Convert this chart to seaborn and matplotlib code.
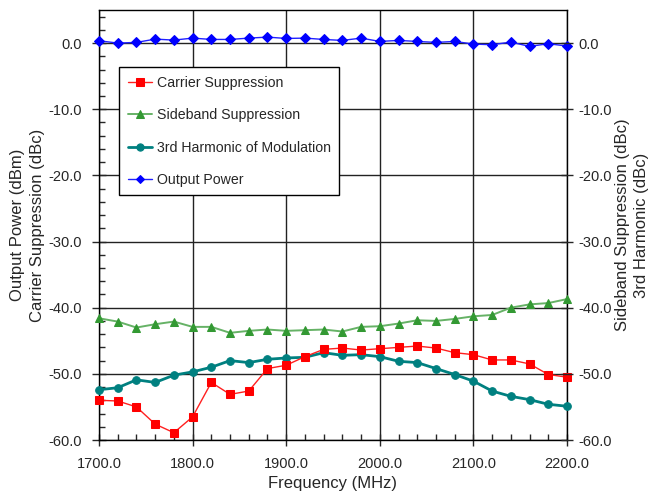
import matplotlib
matplotlib.use("Agg")
import matplotlib.pyplot as plt
import seaborn as sns
import pandas as pd
from matplotlib.ticker import MultipleLocator, FormatStrFormatter

# data (every 20 MHz)
freq = list(range(1700, 2201, 20))
carrier = [-54.0, -54.1, -55.0, -57.6, -58.9, -56.5, -51.3, -53.1, -52.6, -49.2, -48.7, -47.4, -46.3,
           -46.1, -46.4, -46.2, -46.0, -45.8, -46.1, -46.8, -47.1, -47.9, -47.9, -48.5, -50.1, -50.5]
sideband = [-41.6, -42.1, -43.0, -42.5, -42.1, -42.9, -42.9, -43.8, -43.5, -43.3, -43.5, -43.4, -43.3,
            -43.6, -42.9, -42.8, -42.4, -41.9, -42.0, -41.7, -41.3, -41.1, -40.0, -39.5, -39.3, -38.7]
harmonic = [-52.4, -52.1, -50.9, -51.3, -50.2, -49.7, -49.0, -48.0, -48.3, -47.8, -47.6, -47.5, -46.8,
            -47.2, -47.1, -47.4, -48.1, -48.3, -49.2, -50.1, -51.1, -52.6, -53.4, -53.9, -54.6, -54.9]
power = [0.35, 0.0, 0.1, 0.6, 0.45, 0.75, 0.55, 0.55, 0.75, 0.9, 0.7, 0.75, 0.55,
         0.4, 0.75, 0.25, 0.4, 0.25, 0.1, 0.25, -0.15, -0.25, 0.15, -0.5, -0.1, -0.45]

df = pd.DataFrame({"Frequency": freq, "Carrier": carrier, "Sideband": sideband,
                   "Harmonic": harmonic, "Power": power})

sns.set_style("white")
plt.rcParams["font.family"] = ["Liberation Sans", "DejaVu Sans"]

fig = plt.figure(figsize=(6.52, 4.97), dpi=100)
ax = fig.add_axes([99 / 652, 57 / 497, 468 / 652, 430 / 497])

# series (drawn back to front)
series = [
    ("Sideband", "Sideband Suppression", "#66b266", "#339933", "^", 1.4, 6.0),
    ("Harmonic", "3rd Harmonic of Modulation", "#008080", "#008080", "o", 2.0, 5.5),
    ("Carrier", "Carrier Suppression", "#ff2020", "#ff0000", "s", 1.0, 5.8),
    ("Power", "Output Power", "#2020ff", "#0000ff", "D", 1.0, 4.6),
]
for col, lab, lc, mc, mk, lw, ms in series:
    sns.lineplot(data=df, x="Frequency", y=col, ax=ax, color=lc, marker=mk, markersize=ms,
                 markerfacecolor=mc, markeredgecolor=mc, linewidth=lw, label=lab, clip_on=False,
                 zorder=3)

ax.set_xlim(1700, 2200)
ax.set_ylim(-60, 5)
ax.xaxis.set_major_locator(MultipleLocator(100))
ax.xaxis.set_minor_locator(MultipleLocator(20))
ax.yaxis.set_major_locator(MultipleLocator(10))
ax.yaxis.set_minor_locator(MultipleLocator(2))
ax.set_yticks(range(-60, 1, 10))
ax.xaxis.set_major_formatter(FormatStrFormatter("%.1f"))
ax.yaxis.set_major_formatter(FormatStrFormatter("%.1f"))
ax.grid(True, which="major", color="#222222", linewidth=1.0)
ax.set_axisbelow(True)

for s in ax.spines.values():
    s.set_color("black")
    s.set_linewidth(1.0)

ax.tick_params(axis="x", which="major", direction="inout", length=9, width=1, labelsize=10.5, pad=8,
               bottom=True)
ax.tick_params(axis="x", which="minor", direction="in", length=4, width=1, bottom=True)
ax.tick_params(axis="y", which="major", direction="inout", length=10, width=1, labelsize=10.5, pad=7,
               left=True)
ax.tick_params(axis="y", which="minor", direction="in", length=4, width=1, left=True)

ax.set_xlabel("Frequency (MHz)", fontsize=12, labelpad=3)
ax.set_ylabel("Output Power (dBm)\nCarrier Suppression (dBc)", fontsize=12, labelpad=3,
              linespacing=1.4)

ax2 = ax.twinx()
ax2.set_ylim(ax.get_ylim())
ax2.set_yticks(range(-60, 1, 10))
ax2.yaxis.set_major_formatter(FormatStrFormatter("%.1f"))
ax2.tick_params(axis="y", which="major", direction="inout", length=9, width=1, labelsize=10.5, pad=4,
                right=True)
ax2.set_ylabel("Sideband Suppression (dBc)\n3rd Harmonic (dBc)", fontsize=12, labelpad=2,
               linespacing=1.3)
ax2.grid(False)
for s in ax2.spines.values():
    s.set_visible(False)

handles, labels = ax.get_legend_handles_labels()
order = [labels.index(n) for n in ["Carrier Suppression", "Sideband Suppression",
                                   "3rd Harmonic of Modulation", "Output Power"]]
ax.legend([handles[i] for i in order], [labels[i] for i in order], loc="upper left",
          bbox_to_anchor=(0.043, 0.867), borderaxespad=0, fontsize=10.2, frameon=True,
          fancybox=False, framealpha=1, edgecolor="black", labelspacing=1.3,
          handlelength=1.7, handletextpad=0.35, borderpad=0.6, markerscale=0.95)
ax.get_legend().get_frame().set_linewidth(1.0)
ax.get_legend().set_zorder(10)

fig.savefig("out.png", dpi=100)
